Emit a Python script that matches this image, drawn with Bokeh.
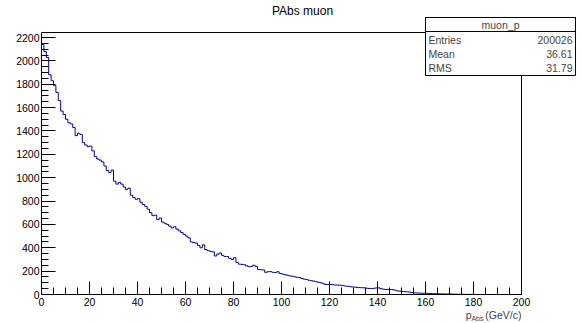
from bokeh.plotting import figure
from bokeh.models import (Range1d, SingleIntervalTicker, Label, BoxAnnotation,
                          ColumnDataSource, LinearAxis)
from bokeh.embed import file_html
from bokeh.resources import INLINE

# ---------------- data ----------------
hist_title = "PAbs muon"
stat_name = "muon_p"
stat_labels = ["Entries", "Mean", "RMS"]
stat_values = ["200026", "36.61", "31.79"]
x_title_main, x_title_sub, x_title_unit = "p", "Abs", "(GeV/c)"
x_min, x_max, bin_width = 0, 200, 1.0
counts = [
    2140, 2080, 2030, 1880, 1830, 1790, 1730, 1660, 1570, 1540,
    1500, 1470, 1460, 1430, 1360, 1380, 1370, 1300, 1280, 1265,
    1270, 1230, 1180, 1160, 1150, 1135, 1100, 1060, 1045, 1065,
    970, 945, 960, 945, 920, 900, 910, 850, 830, 815,
    820, 790, 770, 755, 730, 700, 675, 680, 640, 655,
    620, 610, 600, 585, 570, 580, 560, 545, 530, 515,
    500, 485, 450, 445, 440, 420, 400, 425, 385, 375,
    370, 365, 330, 345, 355, 335, 325, 325, 310, 300,
    315, 275, 260, 258, 255, 245, 238, 240, 250, 240,
    215, 212, 210, 190, 195, 196, 190, 188, 195, 180,
    175, 170, 165, 160, 157, 152, 148, 145, 138, 132,
    128, 122, 118, 114, 110, 104, 100, 92, 86, 85,
    86, 84, 82, 80, 80, 76, 73, 71, 68, 65,
    63, 61, 59, 58, 57, 54, 52, 51, 53, 56,
    57, 50, 45, 43, 44, 43, 42, 36, 30, 28,
    26, 24, 23, 20, 17, 14, 13, 12, 11, 10,
    10, 9, 8, 7, 7, 6, 5, 5, 4, 4,
    4, 3, 3, 2, 2, 2, 1, 1, 1, 1,
    0, 0, 0, 0, 0, 0, 0, 0, 0, 0,
    0, 0, 0, 0, 0, 0, 0, 0, 0, 0,
]
y_tick_interval, x_tick_interval = 200, 20

# ---------------- layout (canvas pixels) ----------------
W, H = 582, 323
FL, FR, FT, FB = 41, 521, 32, 294          # ROOT frame edges (px)
Y2200 = 37                                   # pixel row of the 2200 tick
sx = (FR - FL) / (x_max - x_min)             # px per x unit
sy = (FB - Y2200) / 2200.0                   # px per y unit

def dx(cx):
    return x_min + (cx - FL) / sx

def dy(cy):
    return (FB - cy) / sy

y_top = dy(FT)

# the Bokeh frame covers the whole canvas; axes are pinned at the ROOT frame
p = figure(width=W, height=H, x_range=Range1d(dx(0), dx(W)), y_range=Range1d(dy(H), dy(0)),
           output_backend="svg", toolbar_location=None,
           min_border_left=0, min_border_right=0, min_border_top=0, min_border_bottom=0,
           x_axis_type=None, y_axis_type=None)
p.xgrid.visible = False
p.ygrid.visible = False
p.background_fill_color = "white"
p.border_fill_color = "white"
p.outline_line_color = None

FONT = "Liberation Sans"
xax = LinearAxis(fixed_location=0, bounds=(x_min, x_max))
yax = LinearAxis(fixed_location=x_min, bounds=(0, y_top))
p.add_layout(xax, "below")
p.add_layout(yax, "left")
for ax, iv in ((xax, x_tick_interval), (yax, y_tick_interval)):
    ax.ticker = SingleIntervalTicker(interval=iv, num_minor_ticks=4)
    ax.axis_line_color = "black"
    ax.major_tick_line_color = "black"
    ax.minor_tick_line_color = "black"
    ax.major_tick_out = 0
    ax.minor_tick_out = 0
    ax.major_label_text_font = FONT
    ax.major_label_text_font_size = "10.5px"
    ax.major_label_text_color = "black"
xax.major_tick_in = 13
xax.minor_tick_in = 7
yax.major_tick_in = 14
yax.minor_tick_in = 7
xax.major_label_standoff = 3
yax.major_label_standoff = 2

# remaining two sides of the ROOT frame
p.segment(x0=[x_min, x_max], y0=[y_top, 0], x1=[x_max, x_max], y1=[y_top, y_top],
          line_color="black", line_width=1)

# histogram as staircase
edges = [x_min + i * bin_width for i in range(len(counts) + 1)]
src = ColumnDataSource(dict(x=edges, y=counts + [counts[-1]]))
p.step("x", "y", source=src, mode="after", line_color="#000099", line_width=1)

# title
p.add_layout(Label(x=dx(302), y=dy(10), text=hist_title, text_align="center",
                   text_baseline="middle", text_font=FONT, text_font_size="12px",
                   text_color="black"))

# axis title  p_Abs (GeV/c)
p.add_layout(Label(x=dx(FR), y=dy(314), text=x_title_unit, text_align="right",
                   text_baseline="alphabetic", text_font=FONT, text_font_size="10.5px"))
p.add_layout(Label(x=dx(483), y=dy(318), text=x_title_sub, text_align="right",
                   text_baseline="alphabetic", text_font=FONT, text_font_size="7px"))
p.add_layout(Label(x=dx(471), y=dy(314), text=x_title_main, text_align="right",
                   text_baseline="alphabetic", text_font=FONT, text_font_size="10.5px"))

# stat box
BL, BR, BT, BB, BH = 425, 575, 17, 75, 31
p.add_layout(BoxAnnotation(left=dx(BL), right=dx(BR), top=dy(BT), bottom=dy(BB),
                           fill_color="white", fill_alpha=1.0,
                           line_color="black", line_width=1, line_alpha=1.0))
p.add_layout(BoxAnnotation(left=dx(BL), right=dx(BR), top=dy(BT), bottom=dy(BH),
                           fill_alpha=0.0, line_color="black", line_width=1, line_alpha=1.0))
p.add_layout(Label(x=dx((BL + BR) / 2), y=dy(24), text=stat_name, text_align="center",
                   text_baseline="middle", text_font=FONT, text_font_size="10.5px"))
for i, (lab, val) in enumerate(zip(stat_labels, stat_values)):
    cy = 39 + 14 * i
    p.add_layout(Label(x=dx(BL + 3), y=dy(cy), text=lab, text_align="left",
                       text_baseline="middle", text_font=FONT, text_font_size="10.5px"))
    p.add_layout(Label(x=dx(BR - 3), y=dy(cy), text=val, text_align="right",
                       text_baseline="middle", text_font=FONT, text_font_size="10.5px"))

open("out.html", "w").write(file_html(p, INLINE))
